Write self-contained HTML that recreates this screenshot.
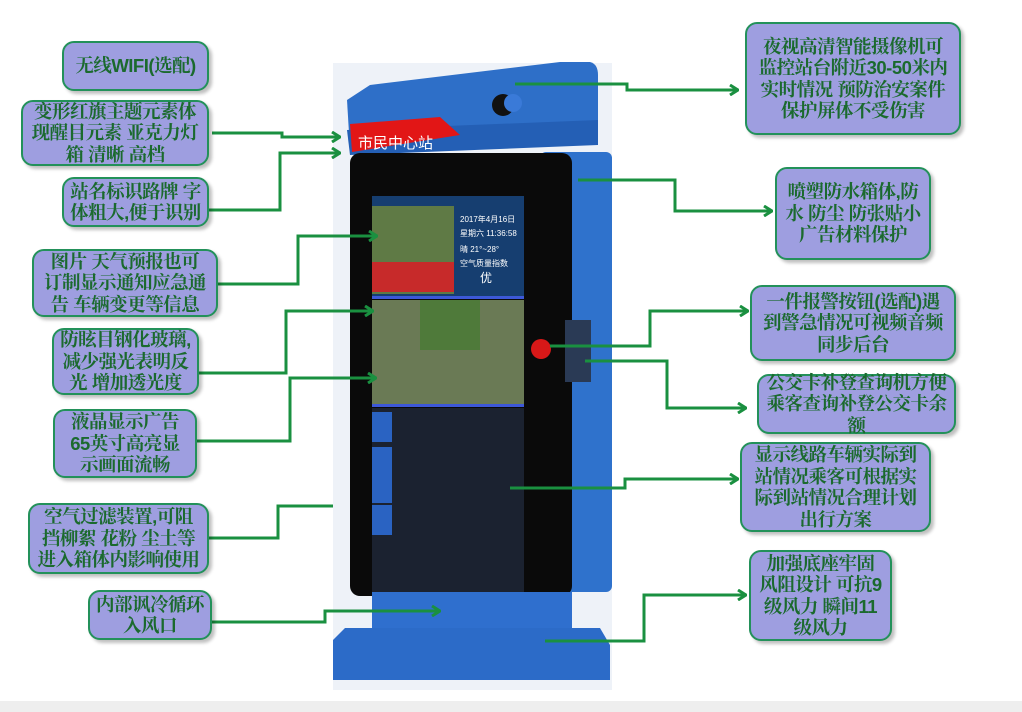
<!DOCTYPE html>
<html><head><meta charset="utf-8"><style>
html,body{margin:0;padding:0;}
body{width:1022px;height:712px;position:relative;background:#fff;overflow:hidden;font-family:"Liberation Sans","Noto Serif CJK SC",serif;}
.b{position:absolute;box-sizing:border-box;background:#9e9ee0;border:2px solid #23915a;border-radius:12px;color:#1b6a2e;font-size:18.5px;line-height:21.5px;font-weight:bold;text-align:center;display:flex;align-items:center;justify-content:center;box-shadow:3px 3px 3px rgba(0,0,0,0.25);white-space:nowrap;letter-spacing:-0.5px;}
svg{position:absolute;left:0;top:0;}
</style></head><body>
<div style="position:absolute;left:0;top:701px;width:1022px;height:11px;background:#eeeeee"></div>
<svg width="1022" height="712">
<defs><marker id="a" markerWidth="10" markerHeight="12" refX="9" refY="6" orient="auto" markerUnits="userSpaceOnUse"><path d="M1,1 L9,6 L1,11" fill="none" stroke="#1a9040" stroke-width="3"/></marker></defs>
<rect x="333" y="63" width="279" height="627" fill="#eef2f8"/>
<path d="M347,100 L370,85 L560,62 L590,62 Q598,64 598,75 L598,140 L350,150 Z" fill="#2e6fc8"/>
<path d="M347,130 L598,120 L598,145 L350,155 Z" fill="#245fb5"/>
<circle cx="503" cy="105" r="11" fill="#111"/>
<circle cx="513" cy="103" r="9" fill="#3a7ad8"/>
<path d="M350,124 L440,117 L460,135 L352,152 Z" fill="#e21616"/>
<text x="358" y="148" font-family="Liberation Sans,Noto Sans CJK SC,sans-serif" font-size="15" fill="#fff">市民中心站</text>
<rect x="540" y="152" width="72" height="440" rx="6" fill="#2f72cc"/>
<rect x="350" y="153" width="222" height="443" rx="10" fill="#0a0a0a"/>
<rect x="372" y="196" width="152" height="100" fill="#163e70"/>
<rect x="372" y="206" width="82" height="88" fill="#5f7a45"/>
<rect x="372" y="262" width="82" height="30" fill="#c72a2a"/>
<text x="460" y="222" font-family="Liberation Sans,Noto Sans CJK SC,sans-serif" font-size="8" fill="#fff">2017年4月16日</text>
<text x="460" y="236" font-family="Liberation Sans,Noto Sans CJK SC,sans-serif" font-size="8" fill="#fff">星期六 11:36:58</text>
<text x="460" y="252" font-family="Liberation Sans,Noto Sans CJK SC,sans-serif" font-size="8" fill="#fff">晴   21°~28°</text>
<text x="460" y="266" font-family="Liberation Sans,Noto Sans CJK SC,sans-serif" font-size="8" fill="#fff">空气质量指数</text>
<text x="480" y="282" font-family="Liberation Sans,Noto Sans CJK SC,sans-serif" font-size="12" fill="#fff">优</text>
<rect x="372" y="296" width="152" height="3" fill="#3d58d8"/>
<rect x="372" y="300" width="152" height="104" fill="#6a7a55"/>
<rect x="420" y="300" width="60" height="50" fill="#4f7a3a"/>
<rect x="372" y="404" width="152" height="3" fill="#3d58d8"/>
<rect x="372" y="408" width="152" height="184" fill="#1b2230"/>
<g fill="#2a63c2"><rect x="372" y="412" width="20" height="30"/><rect x="372" y="447" width="20" height="30"/><rect x="372" y="473" width="20" height="30"/><rect x="372" y="505" width="20" height="30"/></g>
<rect x="565" y="320" width="26" height="62" fill="#2a3a55"/>
<circle cx="541" cy="349" r="10" fill="#d81818"/>
<rect x="372" y="592" width="200" height="48" fill="#2f6fce"/>
<path d="M333,640 L345,628 L600,628 L610,645 L610,680 L333,680 Z" fill="#2c6bc8"/>
<g fill="none" stroke="#1a9040" stroke-width="3">
<polyline points="212,133 282,133 282,137 340,137" marker-end="url(#a)"/>
<polyline points="209,210 280,210 280,153 340,153" marker-end="url(#a)"/>
<polyline points="218,284 298,284 298,236 377,236" marker-end="url(#a)"/>
<polyline points="196,373 286,373 286,311 373,311" marker-end="url(#a)"/>
<polyline points="197,441 290,441 290,378 376,378" marker-end="url(#a)"/>
<polyline points="209,538 278,538 278,506 333,506"/>
<polyline points="212,622 325,622 325,611 440,611" marker-end="url(#a)"/>
<polyline points="515,84 627,84 627,90 738,90" marker-end="url(#a)"/>
<polyline points="578,180 675,180 675,211 772,211" marker-end="url(#a)"/>
<polyline points="550,346 650,346 650,311 748,311" marker-end="url(#a)"/>
<polyline points="585,361 667,361 667,408 746,408" marker-end="url(#a)"/>
<polyline points="510,488 625,488 625,479 738,479" marker-end="url(#a)"/>
<polyline points="545,641 644,641 644,595 746,595" marker-end="url(#a)"/>
</g>
</svg>
<div class="b" style="left:62px;top:41px;width:147px;height:50px">无线WIFI(选配)</div>
<div class="b" style="left:21px;top:100px;width:188px;height:66px">变形红旗主题元素体<br>现醒目元素 亚克力灯<br>箱 清晰 高档</div>
<div class="b" style="left:62px;top:177px;width:147px;height:50px">站名标识路牌 字<br>体粗大,便于识别</div>
<div class="b" style="left:32px;top:249px;width:186px;height:68px">图片 天气预报也可<br>订制显示通知应急通<br>告 车辆变更等信息</div>
<div class="b" style="left:52px;top:328px;width:147px;height:67px">防眩目钢化玻璃,<br>减少强光表明反<br>光 增加透光度</div>
<div class="b" style="left:53px;top:409px;width:144px;height:69px">液晶显示广告<br>65英寸高亮显<br>示画面流畅</div>
<div class="b" style="left:28px;top:503px;width:181px;height:71px">空气过滤装置,可阻<br>挡柳絮 花粉 尘土等<br>进入箱体内影响使用</div>
<div class="b" style="left:88px;top:590px;width:124px;height:50px">内部讽冷循环<br>入风口</div>
<div class="b" style="left:745px;top:22px;width:216px;height:113px">夜视高清智能摄像机可<br>监控站台附近30-50米内<br>实时情况 预防治安案件<br>保护屏体不受伤害</div>
<div class="b" style="left:775px;top:167px;width:156px;height:93px">喷塑防水箱体,防<br>水 防尘 防张贴小<br>广告材料保护</div>
<div class="b" style="left:750px;top:285px;width:206px;height:76px">一件报警按钮(选配)遇<br>到警急情况可视频音频<br>同步后台</div>
<div class="b" style="left:757px;top:374px;width:199px;height:60px">公交卡补登查询机方便<br>乘客查询补登公交卡余<br>额</div>
<div class="b" style="left:740px;top:442px;width:191px;height:90px">显示线路车辆实际到<br>站情况乘客可根据实<br>际到站情况合理计划<br>出行方案</div>
<div class="b" style="left:749px;top:550px;width:143px;height:91px">加强底座牢固<br>风阻设计 可抗9<br>级风力 瞬间11<br>级风力</div>
</body></html>
